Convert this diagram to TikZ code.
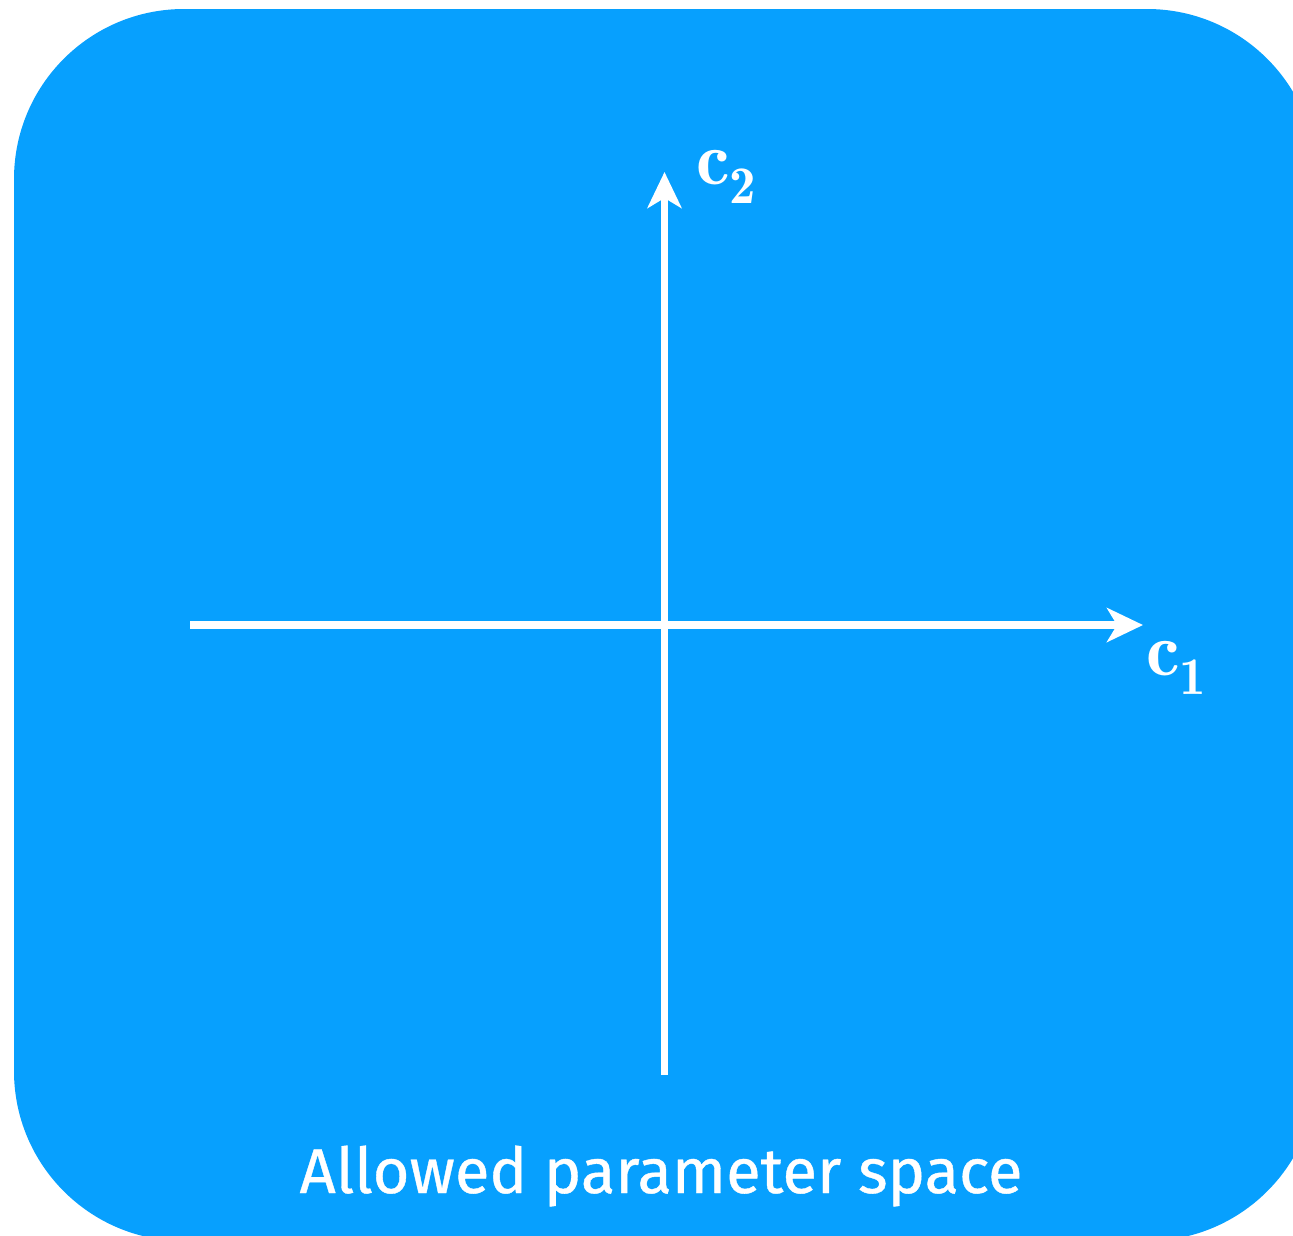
\documentclass[tikz,border=0pt]{standalone}
\usepackage{fontspec}
\setsansfont[FakeBold=0.6]{Fira Sans}
\usepackage{tikz}
\usetikzlibrary{positioning, arrows.meta}
\usepackage{amsmath}
\definecolor{space-blue}{HTML}{07A0FE}

\begin{document}
\begin{tikzpicture}[x=0.02cm, y=-0.02cm,
    axis/.style={-{Stealth[length=0.72cm, width=0.68cm, inset=0.2cm]}, line width=4.4pt, white},
    lbl/.style={text=white, font=\fontsize{43}{48}\selectfont, inner sep=0pt, anchor=base west},
    title/.style={text=white, font=\sffamily\fontsize{36}{44}\selectfont, inner sep=0pt, anchor=base},
]
    \useasboundingbox (0,0) rectangle (1293,1235);
    \clip (0,0) rectangle (1293,1235);

    % Parameter space
    \fill[space-blue, rounded corners=3.4cm] (14,9) rectangle (1317,1241);

    % Axes
    \coordinate (west) at (190,625);
    \coordinate (east) at (1143,625);
    \coordinate (south) at (664.5,1075);
    \coordinate (north) at (664.5,172);
    \draw[axis] (west) -- (east);
    \draw[axis] (south) -- (north);

    % Labels
    \node[lbl] (c2) at (696,184) {$\mathbf{c_2}$};
    \node[lbl] (c1) at (1146,675) {$\mathbf{c_1}$};
    \node[title] (space) at (661,1193) {Allowed parameter space};

\end{tikzpicture}
\end{document}
